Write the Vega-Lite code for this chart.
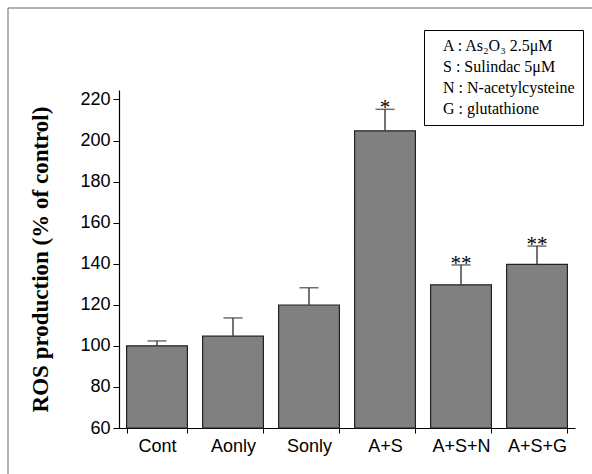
{
  "$schema": "https://vega.github.io/schema/vega-lite/v6.json",
  "width": 456,
  "height": 338,
  "autosize": {"type": "none"},
  "padding": {"left": 119, "top": 90, "right": 17, "bottom": 46},
  "background": "white",
  "config": {"view": {"stroke": null}},
  "datasets": {
    "bars": [
      {"group": "Cont", "value": 100, "upper": 102.4, "sig": ""},
      {"group": "Aonly", "value": 104.7, "upper": 113.6, "sig": ""},
      {"group": "Sonly", "value": 119.9, "upper": 128.3, "sig": ""},
      {"group": "A+S", "value": 204.7, "upper": 215.2, "sig": "*"},
      {"group": "A+S+N", "value": 129.7, "upper": 139.4, "sig": "**"},
      {"group": "A+S+G", "value": 139.7, "upper": 148.6, "sig": "**"}
    ],
    "keys": [
      {"key": "A : As₂O₃ 2.5μM"},
      {"key": "S : Sulindac 5μM"},
      {"key": "N : N-acetylcysteine"},
      {"key": "G : glutathione"}
    ],
    "frame": [
      {"f": 0},
      {"f": 1}
    ]
  },
  "layer": [
    {
      "data": {"name": "bars"},
      "mark": {"type": "bar", "color": "#808080", "stroke": "#222222", "strokeWidth": 1.2},
      "encoding": {
        "x": {
          "field": "group", "type": "nominal", "sort": null,
          "scale": {"paddingInner": 0.2, "paddingOuter": 0.1},
          "axis": {
            "title": null, "labelAngle": 0, "labelFont": "Liberation Sans", "labelFontSize": 18,
            "labelColor": "black", "labelPadding": 4, "tickBand": "extent", "tickColor": "black",
            "tickSize": 5, "domainColor": "black", "domainWidth": 1.2, "tickWidth": 1
          }
        },
        "y": {
          "field": "value", "type": "quantitative",
          "scale": {"domain": [60, 224.6], "zero": false, "nice": false},
          "axis": {
            "values": [60, 80, 100, 120, 140, 160, 180, 200, 220],
            "grid": false, "labelFont": "Liberation Sans", "labelFontSize": 18, "labelColor": "black",
            "labelPadding": 3, "tickSize": 6, "tickColor": "black", "domainColor": "black", "domainWidth": 1.2,
            "title": "ROS production (% of control)", "titleFont": "Liberation Serif", "titleFontSize": 23,
            "titleFontWeight": "bold", "titleColor": "black", "titlePadding": 27
          }
        },
        "y2": {"datum": 60}
      }
    },
    {
      "data": {"name": "bars"},
      "mark": {"type": "rule", "color": "#444444", "strokeWidth": 1.5},
      "encoding": {
        "x": {"field": "group", "type": "nominal", "sort": null},
        "y": {"field": "value", "type": "quantitative"},
        "y2": {"field": "upper"}
      }
    },
    {
      "data": {"name": "bars"},
      "mark": {"type": "tick", "color": "#333333", "thickness": 1.5, "size": 19},
      "encoding": {
        "x": {"field": "group", "type": "nominal", "sort": null},
        "y": {"field": "upper", "type": "quantitative"}
      }
    },
    {
      "data": {"name": "bars"},
      "mark": {"type": "text", "font": "Liberation Serif", "fontSize": 21, "baseline": "alphabetic", "dy": 5, "color": "black"},
      "encoding": {
        "x": {"field": "group", "type": "nominal", "sort": null},
        "y": {"field": "upper", "type": "quantitative"},
        "text": {"field": "sig"}
      }
    },
    {
      "data": {"name": "keys"},
      "mark": {"type": "point", "opacity": 0, "size": 0},
      "encoding": {
        "stroke": {
          "field": "key", "type": "nominal",
          "scale": {"domain": ["A : As₂O₃ 2.5μM", "S : Sulindac 5μM", "N : N-acetylcysteine", "G : glutathione"], "range": ["black", "black", "black", "black"]},
          "legend": {
            "title": null, "orient": "none", "legendX": 305, "legendY": -60,
            "strokeColor": "black", "fillColor": "white", "padding": 8,
            "symbolSize": 0, "symbolOpacity": 0, "symbolStrokeWidth": 0, "labelOffset": -5,
            "labelFont": "Liberation Serif", "labelFontSize": 16, "labelColor": "black",
            "rowPadding": 5, "labelLimit": 0
          }
        }
      }
    },
    {
      "data": {"name": "frame"},
      "mark": {"type": "point", "opacity": 0, "size": 0, "filled": true},
      "encoding": {
        "fill": {
          "field": "f", "type": "quantitative",
          "scale": {"domain": [0, 1], "range": ["rgba(255,255,255,0)", "rgba(255,255,255,0)"]},
          "legend": {
            "title": null, "orient": "none", "legendX": -111, "legendY": -82, "direction": "vertical",
            "gradientLength": 520, "gradientThickness": 620, "gradientStrokeColor": "#666666",
            "gradientStrokeWidth": 1, "labels": false, "padding": 0, "values": []
          }
        }
      }
    }
  ]
}
